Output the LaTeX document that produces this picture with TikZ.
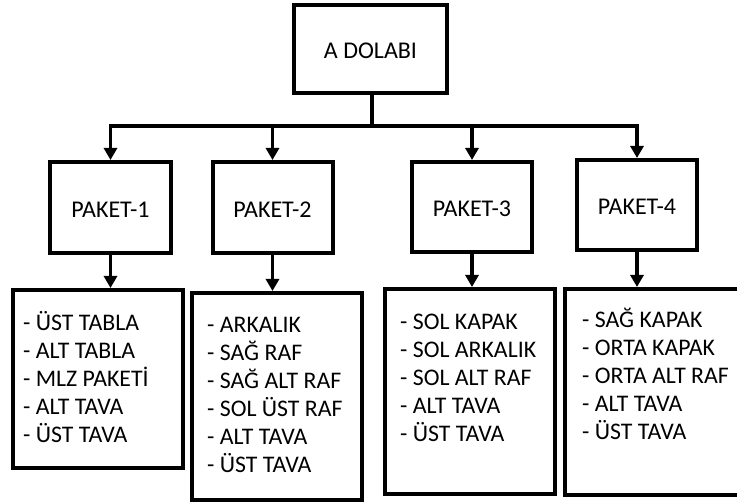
\documentclass[tikz,border=0pt]{standalone}
\usepackage{fontspec}
\setmainfont{Carlito}
\usetikzlibrary{arrows.meta}
\newcommand{\firstup}{\rule{0pt}{20pt}}
\begin{document}
\begin{tikzpicture}[x=1pt,y=-1pt,
  box/.style={draw,line width=4pt,inner sep=0pt},
  lbl/.style={font=\fontsize{24}{28}\selectfont,text height=20pt,text depth=0pt},
  lst/.style={font=\fontsize{23.8}{28}\selectfont,align=left,anchor=north west,inner sep=0pt},
  conn/.style={line width=3.5pt},
  arr/.style={conn,-{Triangle[width=13pt,length=12pt]}}]
\useasboundingbox (0,0) rectangle (737,502);
\fill[white] (0,0) rectangle (737,502);
% top
\node[box,lbl,minimum width=153pt,minimum height=88pt] (top) at (370.5,49) {A DOLABI};
% packages
\node[box,lbl,minimum width=121pt,minimum height=91pt] (p1) at (110.5,207.5) {PAKET-1};
\node[box,lbl,minimum width=120pt,minimum height=91pt] (p2) at (272.5,207.5) {PAKET-2};
\node[box,lbl,minimum width=120pt,minimum height=90pt] (p3) at (472,207) {PAKET-3};
\node[box,lbl,minimum width=120pt,minimum height=90pt] (p4) at (637,205) {PAKET-4};
% lists
\node[box,minimum width=170pt,minimum height=178pt] (l1) at (98,379) {};
\node[box,minimum width=170pt,minimum height=207pt] (l2) at (277,396.5) {};
\node[box,minimum width=170pt,minimum height=205pt] (l3) at (470,391.5) {};
\node[box,minimum width=176pt,minimum height=206pt] (l4) at (653,392) {};
\node[lst] (t1) at (23,310) {\firstup- ÜST TABLA\\- ALT TABLA\\- MLZ PAKETİ\\- ALT TAVA\\- ÜST TAVA};
\node[lst] (t2) at (207,312) {\firstup- ARKALIK\\- SAĞ RAF\\- SAĞ ALT RAF\\- SOL ÜST RAF\\- ALT TAVA\\- ÜST TAVA};
\node[lst] (t3) at (400,309) {\firstup- SOL KAPAK\\- SOL ARKALIK\\- SOL ALT RAF\\- ALT TAVA\\- ÜST TAVA};
\node[lst] (t4) at (582,307) {\firstup- SAĞ KAPAK\\- ORTA KAPAK\\- ORTA ALT RAF\\- ALT TAVA\\- ÜST TAVA};
% connectors
\coordinate (busM) at (372,126);
\draw[conn] (top.south -| busM) -- (busM);
\draw[arr] (busM) -| (p1.north);
\draw[arr] (busM) -| (p4.north);
\draw[arr] (p2.north |- busM) -- (p2.north);
\draw[arr] (p3.north |- busM) -- (p3.north);
\draw[arr] (p1.south) -- (p1.south |- l1.north);
\draw[arr] (p2.south) -- (p2.south |- l2.north);
\draw[arr] (p3.south) -- (p3.south |- l3.north);
\draw[arr] (p4.south) -- (p4.south |- l4.north);
\end{tikzpicture}
\end{document}
